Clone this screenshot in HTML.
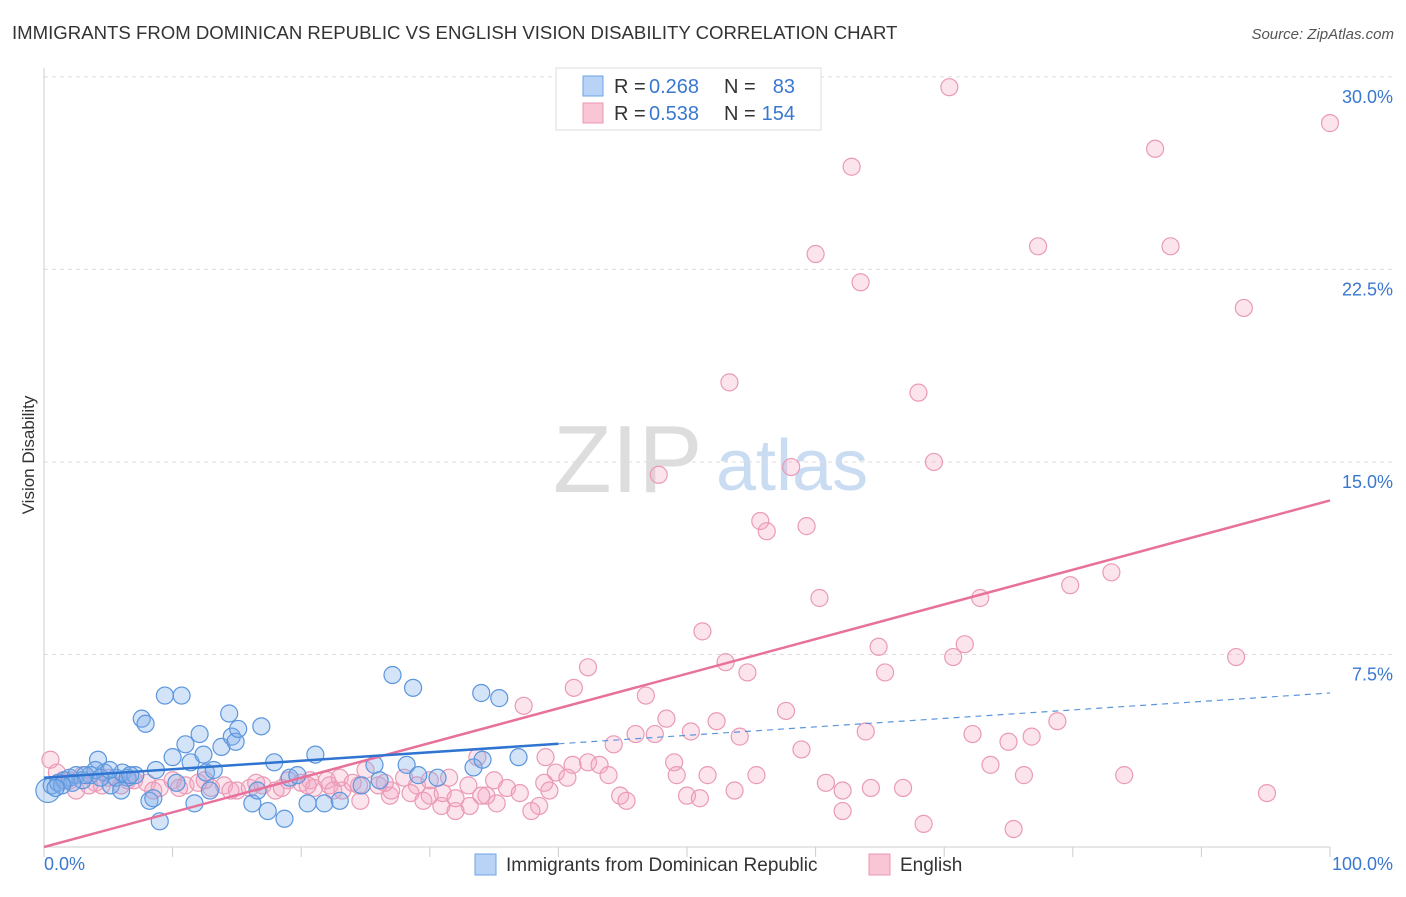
<!DOCTYPE html>
<html><head><meta charset="utf-8"><style>
body{margin:0;background:#fff;font-family:"Liberation Sans",sans-serif;}
svg text{font-family:"Liberation Sans",sans-serif;}
</style></head><body>
<svg id="chart" width="1406" height="892" xmlns="http://www.w3.org/2000/svg">
<text x="12" y="39" font-size="18.6" fill="#333">IMMIGRANTS FROM DOMINICAN REPUBLIC VS ENGLISH VISION DISABILITY CORRELATION CHART</text>
<text x="1394" y="39" font-size="15" fill="#555" text-anchor="end" font-style="italic">Source: ZipAtlas.com</text>
<text transform="translate(34,455) rotate(-90)" font-size="17" fill="#333" text-anchor="middle">Vision Disability</text>
<g>
<text x="553" y="492" font-size="96" fill="#ddd" font-family="Liberation Serif,serif">ZIP</text>
<text x="716" y="490" font-size="72" fill="#c9dcf2">atlas</text>
</g>
<g id="grid"></g><g id="axes"></g><g id="pink"></g><g id="blue"></g><g id="trends"></g>
<g>
<rect x="556" y="68" width="265" height="62" fill="#fff" stroke="#ddd"/>
<rect x="583" y="76" width="20" height="20" fill="#b8d3f5" stroke="#6fa3e6"/>
<text x="614" y="93" font-size="20" fill="#333">R =</text>
<text x="649" y="93" font-size="20" fill="#3a78d0">0.268</text>
<text x="724" y="93" font-size="20" fill="#333">N =</text>
<text x="795" y="93" font-size="20" fill="#3a78d0" text-anchor="end">83</text>
<rect x="583" y="103" width="20" height="20" fill="#f9c6d6" stroke="#eb97b3"/>
<text x="614" y="120" font-size="20" fill="#333">R =</text>
<text x="649" y="120" font-size="20" fill="#3a78d0">0.538</text>
<text x="724" y="120" font-size="20" fill="#333">N =</text>
<text x="795" y="120" font-size="20" fill="#3a78d0" text-anchor="end">154</text>
</g>
<g>
<rect x="475" y="854" width="21" height="21" fill="#b8d3f5" stroke="#6fa3e6"/>
<text x="506" y="871" font-size="19" fill="#333">Immigrants from Dominican Republic</text>
<rect x="869" y="854" width="21" height="21" fill="#f9c6d6" stroke="#eb97b3"/>
<text x="900" y="871" font-size="19" fill="#333">English</text>
</g>
</svg>
<script>
const yTicks=[7.5,15,22.5,30];
const yTickLabels=["7.5%","15.0%","22.5%","30.0%"];
const xTicks=[0,10,20,30,40,50,60,70,80,90,100];
const pinkX=[70.4,100,86.4,62.8,60.0,77.3,87.6,63.5,93.3,53.3,68.0,47.8,58.1,69.2,55.7,56.2,59.3,83.0,79.8,60.3,72.8,51.2,64.9,71.6,70.7,92.7,53.0,42.3,54.7,65.4,41.2,46.8,37.3,57.7,48.4,52.3,78.8,63.9,46.0,47.5,50.3,54.1,72.2,76.8,75.0,44.3,39.0,58.9,33.7,49.0,42.3,43.2,41.1,73.6,39.8,43.9,49.2,51.6,55.4,76.2,84.0,60.8,38.9,40.7,62.1,64.3,66.8,53.7,50.0,51.0,39.3,44.8,45.3,95.1,62.1,68.4,75.4,38.5,37.9,35.2,34.4,33.1,32.0,30.9,30.0,26.9,24.6,23.2,22.2,20.7,0.5,1,2,3,4,5,6,7,8,9,10,11,12,13,14,15,16,17,18,19,20,21,22,23,24,25,26,27,28,29,30,31,32,33,34,35,36,37,2.5,4.5,6.5,8.5,10.5,12.5,14.5,16.5,18.5,20.5,22.5,24.5,26.5,28.5,29.5,31.5,1.5,3.5];
const pinkY=[29.6,28.2,27.2,26.5,23.1,23.4,23.4,22.0,21.0,18.1,17.7,14.5,14.8,15.0,12.7,12.3,12.5,10.7,10.2,9.7,9.7,8.4,7.8,7.9,7.4,7.4,7.2,7.0,6.8,6.8,6.2,5.9,5.5,5.3,5.0,4.9,4.9,4.5,4.4,4.4,4.5,4.3,4.4,4.3,4.1,4.0,3.5,3.8,3.5,3.3,3.3,3.2,3.2,3.2,2.9,2.8,2.8,2.8,2.8,2.8,2.8,2.5,2.5,2.7,2.2,2.3,2.3,2.2,2.0,1.9,2.2,2.0,1.8,2.1,1.4,0.9,0.7,1.6,1.4,1.7,2.0,1.6,1.4,1.6,2.0,2.0,1.8,2.2,2.4,2.6,3.4,2.9,2.6,2.8,2.5,2.7,2.4,2.6,2.5,2.3,2.6,2.4,2.5,2.3,2.4,2.2,2.3,2.4,2.2,2.6,2.5,2.3,2.6,2.7,2.5,3.0,2.4,2.2,2.7,2.4,2.6,2.1,1.9,2.4,2.0,2.6,2.3,2.1,2.2,2.4,2.6,2.2,2.3,2.6,2.2,2.5,2.3,2.4,2.2,2.4,2.5,2.1,1.8,2.7,2.6,2.4];
const blueX=[0.3,0.6,1.1,1.6,2.0,2.5,3.0,3.6,4.2,4.7,5.2,5.6,6.1,6.5,7.1,7.6,7.9,8.2,8.5,9.0,9.4,10.7,8.7,10.0,10.3,11.0,11.4,11.7,12.1,12.4,12.6,12.9,13.2,13.8,14.4,14.6,14.9,15.1,16.9,16.2,16.6,17.4,17.9,18.7,19.1,19.7,20.5,21.1,21.8,23.0,24.7,25.7,26.1,27.1,28.2,28.7,29.1,30.6,33.4,34.0,34.1,35.4,36.9,4.0,3.2,2.2,1.4,0.9,6.0,6.7,4.4,5.1];
const blueY=[2.2,2.4,2.5,2.6,2.7,2.8,2.6,2.8,3.4,2.9,2.4,2.7,2.9,2.7,2.8,5.0,4.8,1.8,1.9,1.0,5.9,5.9,3.0,3.5,2.5,4.0,3.3,1.7,4.4,3.6,2.9,2.2,3.0,3.9,5.2,4.3,4.1,4.6,4.7,1.7,2.2,1.4,3.3,1.1,2.7,2.8,1.7,3.6,1.7,1.8,2.4,3.2,2.6,6.7,3.2,6.2,2.8,2.7,3.1,6.0,3.4,5.8,3.5,3.0,2.8,2.5,2.4,2.3,2.2,2.8,2.7,3.0];
const pinkTrend=[0,13.5];
const blueTrend=[2.7,6.0];
const blueSolidEnd=40;
const NS="http://www.w3.org/2000/svg";
const X0=44,X1=1330,Y0=847,PER=25.67;
const sx=v=>X0+(X1-X0)*v/100, sy=v=>Y0-v*PER;
function mk(tag,attrs,parent){const e=document.createElementNS(NS,tag);for(const k in attrs)e.setAttribute(k,attrs[k]);document.getElementById(parent).appendChild(e);return e;}
yTicks.forEach((t,i)=>{
 const l=mk('line',{x1:X0,x2:1393,y1:sy(t),y2:sy(t),stroke:'#ddd','stroke-dasharray':'4,4'},'grid');
 
 
 const tx=mk('text',{x:1393,y:sy(t)+26,'font-size':18,fill:'#3a78d0','text-anchor':'end'},'grid');
 tx.textContent=yTickLabels[i];
 
 
});
const ax=mk('line',{x1:X0,x2:X0,y1:68,y2:Y0,stroke:'#ccc'},'axes');


const bx=mk('line',{x1:X0,x2:X1,y1:Y0,y2:Y0,stroke:'#ccc'},'axes');


xTicks.forEach(t=>{const l=mk('line',{x1:sx(t),x2:sx(t),y1:Y0,y2:Y0+10,stroke:'#ccc'},'axes');
 
 });
const xl=mk('text',{x:44,y:870,'font-size':18,fill:'#3a78d0'},'axes');xl.textContent='0.0%';


const xr=mk('text',{x:1393,y:870,'font-size':18,fill:'#3a78d0','text-anchor':'end'},'axes');xr.textContent='100.0%';


pinkX.forEach((x,i)=>{const c=mk('circle',{cx:sx(x),cy:sy(pinkY[i]),r:8.5,fill:'rgba(244,165,195,0.3)',stroke:'#ea9ab5','stroke-width':1.2},'pink');
 
 });
blueX.forEach((x,i)=>{const c=mk('circle',{cx:sx(x),cy:sy(blueY[i]),r:i===0?12:8.5,fill:'rgba(130,175,235,0.35)',stroke:'#5b96dd','stroke-width':1.2},'blue');
 
 });
const bt=v=>blueTrend[0]+(blueTrend[1]-blueTrend[0])*v/100;
const pl=mk('line',{x1:sx(0),y1:sy(pinkTrend[0]),x2:sx(100),y2:sy(pinkTrend[1]),stroke:'#e8719b','stroke-width':2.5},'trends');


const bl=mk('line',{x1:sx(0),y1:sy(bt(0)),x2:sx(blueSolidEnd),y2:sy(bt(blueSolidEnd)),stroke:'#2f74d0','stroke-width':2.5},'trends');


const bd=mk('line',{x1:sx(blueSolidEnd),y1:sy(bt(blueSolidEnd)),x2:sx(100),y2:sy(bt(100)),stroke:'#5b96dd','stroke-width':1.2,'stroke-dasharray':'6,5'},'trends');


</script>
</body></html>
